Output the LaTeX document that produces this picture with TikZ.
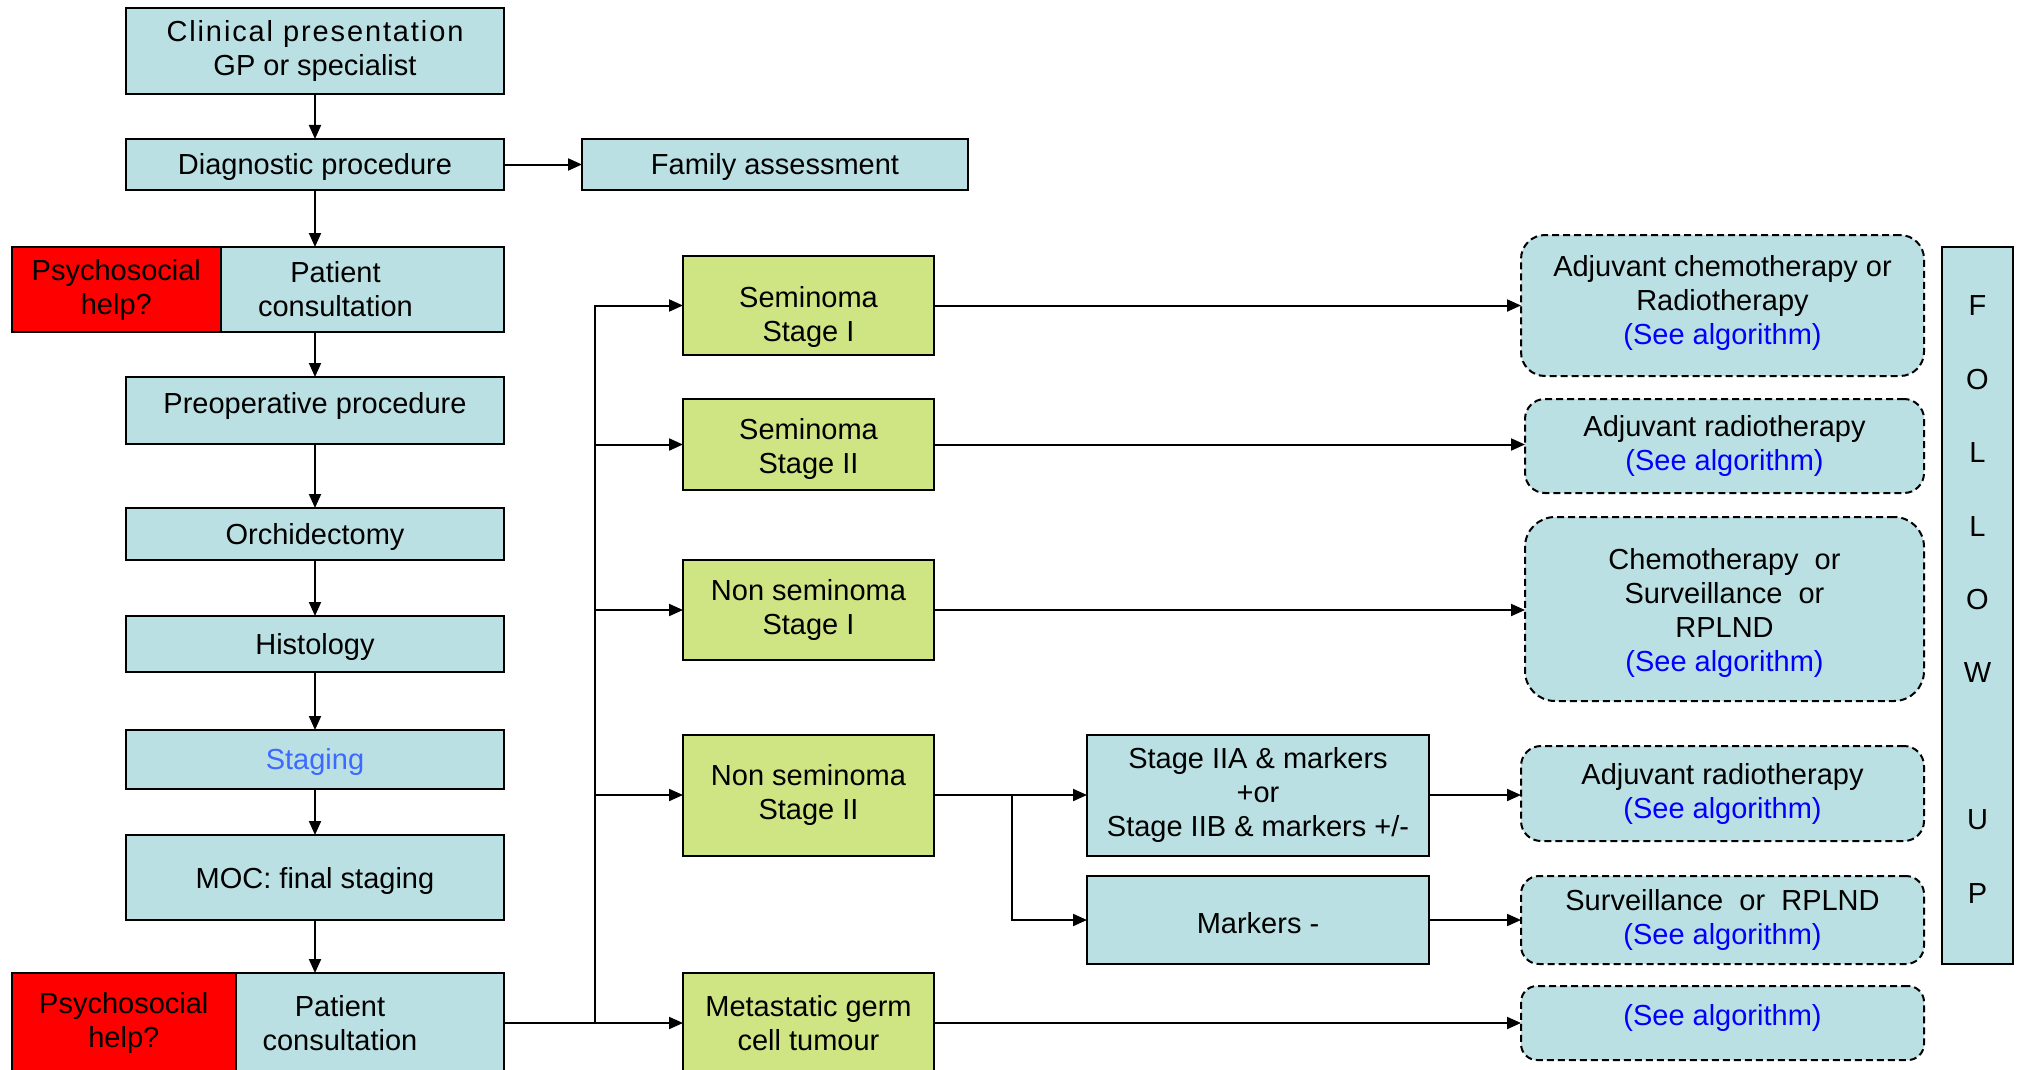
\documentclass[tikz,border=0pt]{standalone}
\usepackage{fontspec}
\setmainfont{Liberation Sans}
\usetikzlibrary{arrows.meta}
\definecolor{lb}{RGB}{186,224,227}
\definecolor{lg}{RGB}{207,228,130}
\definecolor{stageblue}{RGB}{60,105,255}
\definecolor{linkblue}{RGB}{0,0,255}

\begin{document}
\begin{tikzpicture}[x=1pt,y=-1pt,
  every node/.style={inner sep=0pt, outer sep=0pt, align=center,
    font=\fontsize{29}{34}\selectfont,
    execute at begin node={\rule{0pt}{27pt}}},
  base/.style={draw=black, line width=2pt},
  bluebox/.style={base, fill=lb},
  greenbox/.style={base, fill=lg},
  redbox/.style={base, fill=red},
  optbox/.style={draw=black, line width=2pt, dash pattern=on 7pt off 4pt,
    fill=lb, rounded corners=24pt},
  arr/.style={line width=2pt, -{Triangle[length=14pt,width=12pt]}},
  link/.style={text=linkblue}]

\clip (0,0) rectangle (2018,1070);
\useasboundingbox (0,0) rectangle (2018,1070);

% ---- main column ----
\node[bluebox, minimum width=378pt, minimum height=86pt] (clin) at (315,51)
  {{\addfontfeature{LetterSpace=6.5}Clinical presentation}\\GP or specialist};
\node[bluebox, minimum width=378pt, minimum height=51pt] (diag) at (315,164.5)
  {Diagnostic procedure};
\node[bluebox, minimum width=386pt, minimum height=51pt] (fam) at (775,164.5)
  {Family assessment};

\node[redbox, minimum width=209.4pt, minimum height=85pt] (psy1) at (116.3,289.5)
  {Psychosocial\\help?};
\node[bluebox, minimum width=283pt, minimum height=85pt,
  label={[xshift=-27pt]center:Patient\\consultation}] (pc1) at (362.5,289.5) {};

\node[bluebox, minimum width=378pt, minimum height=67pt,
  label={[yshift=7pt]center:Preoperative procedure}] (preop) at (315,410.5) {};
\node[bluebox, minimum width=378pt, minimum height=52pt] (orch) at (315,534)
  {Orchidectomy};
\node[bluebox, minimum width=378pt, minimum height=56pt] (hist) at (315,644)
  {Histology};
\node[bluebox, minimum width=378pt, minimum height=59pt, text=stageblue] (stag) at (315,759.5)
  {Staging};
\node[bluebox, minimum width=378pt, minimum height=85pt] (moc) at (315,877.5)
  {MOC: final staging};

\node[redbox, minimum width=224.4pt, minimum height=100pt] (psy2) at (123.8,1023)
  {Psychosocial\\help?};
\node[bluebox, minimum width=268pt, minimum height=100pt,
  label={[xshift=-30pt]center:Patient\\consultation}] (pc2) at (370,1023) {};

% ---- tumour types ----
\node[greenbox, minimum width=251pt, minimum height=99pt,
  label={[yshift=-12pt]center:Seminoma\\Stage I}] (s1) at (808.5,305.5) {};
\node[greenbox, minimum width=251pt, minimum height=91pt,
  label={[yshift=-4pt]center:Seminoma\\Stage II}] (s2) at (808.5,444.5) {};
\node[greenbox, minimum width=251pt, minimum height=100pt] (n1) at (808.5,610)
  {Non seminoma\\Stage I};
\node[greenbox, minimum width=251pt, minimum height=121pt] (n2) at (808.5,795)
  {Non seminoma\\Stage II};
\node[greenbox, minimum width=251pt, minimum height=100pt] (met) at (808.5,1023)
  {Metastatic germ\\cell tumour};

% ---- stage II non seminoma split ----
\node[bluebox, minimum width=342pt, minimum height=121pt] (iia) at (1258,795)
  {Stage IIA \& markers\\+or\\Stage IIB \& markers +/-};
\node[bluebox, minimum width=342pt, minimum height=88pt] (mk) at (1258,920)
  {Markers -};

% ---- treatment options ----
\node[optbox, minimum width=403pt, minimum height=141pt,
  label={[yshift=2.5pt]center:Adjuvant chemotherapy or\\Radiotherapy\\\textcolor{linkblue}{(See algorithm)}}]
  (r1) at (1722.5,305.5) {};
\node[optbox, minimum width=399pt, minimum height=94pt, rounded corners=20pt] (r2) at (1724.5,446)
  {Adjuvant radiotherapy\\\textcolor{linkblue}{(See algorithm)}};
\node[optbox, minimum width=399pt, minimum height=184pt, rounded corners=30pt,
  label={[yshift=-4pt]center:Chemotherapy\ \ or\\Surveillance\ \ or\\RPLND\\\textcolor{linkblue}{(See algorithm)}}]
  (r3) at (1724.5,609) {};
\node[optbox, minimum width=403pt, minimum height=95pt, rounded corners=20pt] (r4) at (1722.5,793.5)
  {Adjuvant radiotherapy\\\textcolor{linkblue}{(See algorithm)}};
\node[optbox, minimum width=403pt, minimum height=88pt, rounded corners=18pt] (r5) at (1722.5,920)
  {Surveillance\ \ or\ \ RPLND\\\textcolor{linkblue}{(See algorithm)}};
\node[optbox, minimum width=403pt, minimum height=74pt, rounded corners=16pt,
  label={[yshift=8pt, text=linkblue]center:(See algorithm)}] (r6) at (1722.5,1023) {};

% ---- follow up bar ----
\node[bluebox, minimum width=71pt, minimum height=717pt,
  label={[yshift=6pt, font=\fontsize{29}{73.4}\selectfont]center:F\\O\\L\\L\\O\\W\\\mbox{}\\U\\P}]
  (fu) at (1977.5,605.5) {};

% ---- connectors ----
\draw[arr] (clin.south) -- (diag.north);
\draw[arr] (diag.east) -- (fam.west);
\draw[arr] (diag.south) -- (diag.south |- pc1.north);
\draw[arr] (pc1.south -| preop.north) -- (preop.north);
\draw[arr] (preop.south) -- (orch.north);
\draw[arr] (orch.south) -- (hist.north);
\draw[arr] (hist.south) -- (stag.north);
\draw[arr] (stag.south) -- (moc.north);
\draw[arr] (moc.south) -- (moc.south |- pc2.north);

\coordinate (bus) at (595,1023);
\draw[arr] (pc2.east) -- (bus) |- (s1.west);
\draw[arr] (bus |- s2.west) -- (s2.west);
\draw[arr] (bus |- n1.west) -- (n1.west);
\draw[arr] (bus |- n2.west) -- (n2.west);
\draw[arr] (bus) -- (met.west);

\draw[arr] (s1.east) -- (s1.east -| r1.west);
\draw[arr] (s2.east) -- (s2.east -| r2.west);
\draw[arr] (n1.east) -- (n1.east -| r3.west);
\draw[arr] (n2.east) -- (iia.west);
\coordinate (split) at (1012,795);
\draw[arr] (split) |- (mk.west);
\draw[arr] (iia.east) -- (iia.east -| r4.west);
\draw[arr] (mk.east) -- (r5.west);
\draw[arr] (met.east) -- (r6.west);

\end{tikzpicture}
\end{document}
